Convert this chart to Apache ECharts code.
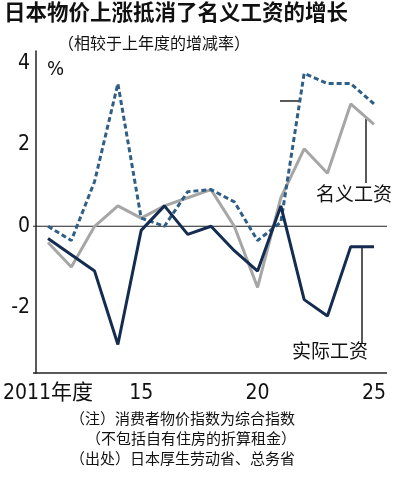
<!DOCTYPE html><html><head><meta charset="utf-8">
<script src="https://cdn.jsdelivr.net/npm/echarts@6/dist/echarts.min.js"></script>
<style>body{margin:0;background:#fff}#c{width:400px;height:485px}</style></head><body><div id="c"></div>
<script>
const years=[2011,2012,2013,2014,2015,2016,2017,2018,2019,2020,2021,2022,2023,2024,2025];
const cpi=[0,-0.35,1.1,3.5,0.2,0,0.85,0.9,0.6,-0.35,0.1,3.75,3.5,3.5,3.0];
const nominal=[-0.4,-1.0,0,0.5,0.2,0.5,0.7,0.9,0,-1.5,0.7,1.9,1.3,3.0,2.5];
const real=[-0.3,-0.7,-1.1,-2.9,-0.1,0.5,-0.2,0,-0.6,-1.1,0.5,-1.8,-2.2,-0.5,-0.5];
const xLabels={2011:'2011年度',2015:'15',2020:'20',2025:'25'};
const yTicks=[4,2,0,-2];
const pair=a=>years.map((y,i)=>[y,a[i]]);
const c=echarts.init(document.getElementById('c'));
const narrow='"Liberation Sans Narrow","DejaVu Sans Condensed",sans-serif';
const cjk='"Noto Sans CJK SC",sans-serif';
c.setOption({animation:false,
grid:{left:45,right:26,top:51,bottom:112},
xAxis:{type:'value',min:2011,max:2025,interval:1,axisLine:{show:false},axisTick:{show:false},splitLine:{show:false},
 axisLabel:{margin:10,formatter:v=>xLabels[v]||'',color:'#111',fontSize:21,fontFamily:narrow+','+cjk}},
yAxis:{type:'value',min:-3.6,max:4.3,interval:0.1,offset:12,axisLine:{show:true,lineStyle:{color:'#222',width:1.5}},axisTick:{show:false},splitLine:{show:false},
 axisLabel:{formatter:v=>yTicks.some(t=>Math.abs(t-v)<1e-6)?String(Math.round(v)):'',color:'#111',fontSize:21,fontFamily:narrow,margin:6}},
series:[
{type:'line',data:pair(nominal),symbol:'none',lineStyle:{color:'#a6a6a6',width:3}},
{type:'line',data:pair(cpi),symbol:'none',lineStyle:{color:'#2f5e86',width:3,type:[5,3]}},
{type:'line',data:pair(real),symbol:'none',lineStyle:{color:'#142c4f',width:3}}
]});
const p=(x,y)=>c.convertToPixel({gridIndex:0},[x,y]);
const z0=p(2011,0), bl=p(2011,-3.6);
const L=(x1,y1,x2,y2,w,col)=>({type:'line',shape:{x1,y1,x2,y2},style:{stroke:col||'#222',lineWidth:w||1.5},silent:true});
const T=(x,y,text,size,extra)=>({type:'text',x,y,style:Object.assign({text,fontSize:size,fontFamily:cjk,fill:'#111'},extra||{})});
c.setOption({graphic:[
 L(33,z0[1],387,z0[1],1.2),
 L(33,bl[1],387,bl[1],1.5),
 L(366,p(2024.6,2.65)[1],366,183,1.5),
 L(362,p(2024.5,-0.5)[1],362,343,1.5),
 L(280,101,299,101,1.5),
 T(4,1,'日本物价上涨抵消了名义工资的增长',21.5,{fontWeight:'bold'}),
 T(58,35,'（相较于上年度的增减率）',16),
 T(47,60,'%',20,{fontFamily:narrow}),
 T(316,184,'名义工资',19),
 T(292,341,'实际工资',19),
 T(70,411,'（注）消费者物价指数为综合指数',15),
 T(86,431,'（不包括自有住房的折算租金）',15),
 T(70,451,'（出处）日本厚生劳动省、总务省',15)
]});
</script></body></html>
